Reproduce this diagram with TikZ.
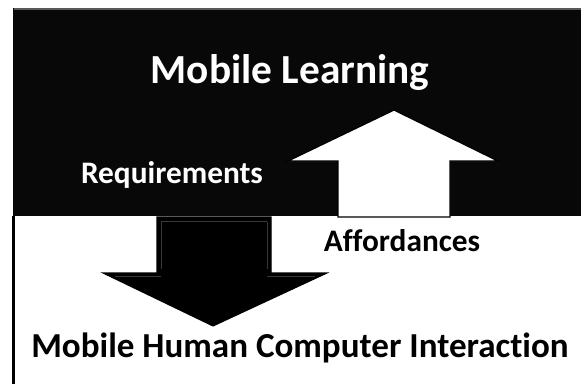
\documentclass[tikz,border=0pt]{standalone}
\usepackage{fontspec}
\setmainfont[Ligatures=NoCommon]{Carlito}
\colorlet{colorBand}{black!97}
\colorlet{colorBevel}{gray!70!black}
\colorlet{colorShine}{gray!45!black}
\colorlet{colorUp}{white}
\colorlet{colorDown}{black}
\tikzset{
   every path/.style={line join=miter},
   band/.style={fill=colorBand},
   bevel/.style={color=colorBevel,line width=1.5pt},
   frame/.style={color=black,line width=1.6pt},
   uparr/.style={fill=colorUp,draw=black,line width=1pt},
   downarr/.style={fill=colorDown,draw=black,line width=0.8pt},
   shine/.style={color=colorShine,line width=0.7pt},
   title/.style={font=\bfseries\fontsize{31}{36}\selectfont,color=white,anchor=base},
   bottomlbl/.style={font=\bfseries\fontsize{26.3}{30}\selectfont,color=black,anchor=base},
   lightlbl/.style={font=\bfseries\fontsize{23.5}{28}\selectfont,color=white,anchor=base},
   darklbl/.style={font=\bfseries\fontsize{23.5}{28}\selectfont,color=black,anchor=base},
 }
\begin{document}
\begin{tikzpicture}[x=0.75pt,y=-0.75pt]
      \useasboundingbox (0,0) rectangle (581,385);
      % black band
      \fill[band] (13,8) rectangle (581,216);
      \draw[bevel] (14,9.5) -- (581,9.5);
      \draw[frame] (13.5,216) -- (13.5,384);
      
      \node[title] (ML) at (290,84) {Mobile Learning};
      \node[lightlbl] (Req) at (172,183) {Requirements};
      \node[darklbl] (Aff) at (402,251) {Affordances};
      \node[bottomlbl] (MHCI) at (300,357) {Mobile Human Computer Interaction};
      
      % up arrow
      \draw[uparr] (338,217) -- (338,161) -- (288,161) -- (394,110)
         -- (498,161) -- (450,161) -- (450,217) -- cycle;
      % down arrow
      \draw[downarr] (157,217) -- (157,273) -- (103,273) -- (213,326)
         -- (327,273) -- (271,273) -- (271,217) -- cycle;
      \draw[shine] (161,221) -- (267,221);
      \draw[shine] (161,222) -- (161,269) (267,222) -- (267,269);
      \draw[shine] (115,276) -- (161,276) (267,276) -- (315,276);
    \end{tikzpicture}
\end{document}
